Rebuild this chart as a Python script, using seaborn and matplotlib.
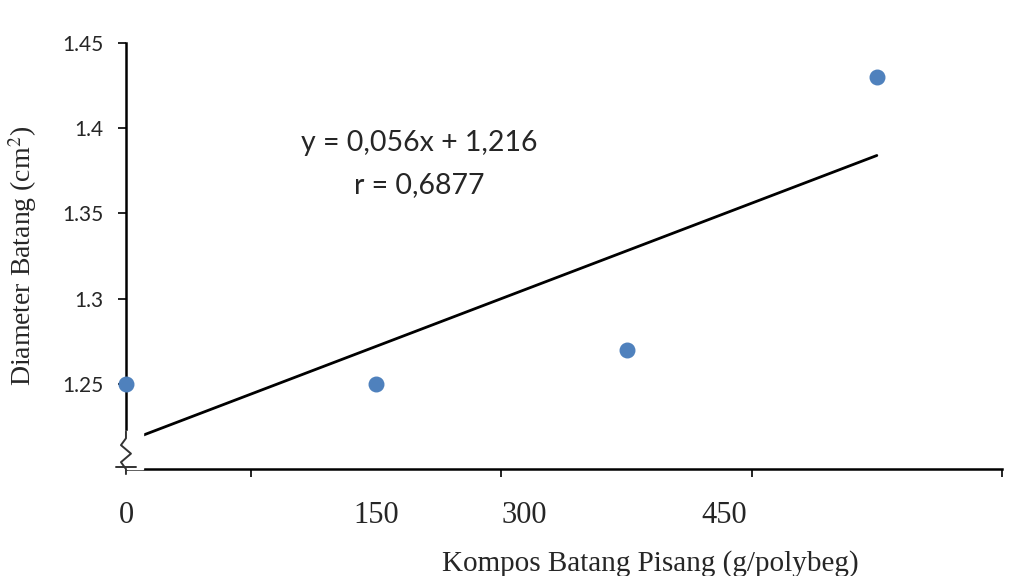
import numpy as np
import pandas as pd
import seaborn as sns
import matplotlib.pyplot as plt

# data (x as treatment index)
dose_idx = [0, 1, 2, 3]
diameter = [1.25, 1.25, 1.27, 1.43]
x_labels = ["0", "150", "300", "450"]
x_label_pos = [0, 1, 1.59, 2.39]
y_ticks = [1.25, 1.3, 1.35, 1.4, 1.45]

df = pd.DataFrame({"dosis": dose_idx, "diameter": diameter})

sns.set_style("white")
fig = plt.figure(figsize=(10.35, 5.76), dpi=100)
ax = fig.add_axes([0.1217, 0.1858, 0.8464, 0.7395])

sns.regplot(data=df, x="dosis", y="diameter", ax=ax, ci=None,
            scatter_kws={"color": "#4F81BD", "s": 110, "alpha": 1, "zorder": 4, "clip_on": False},
            line_kws={"color": "black", "lw": 2})

ax.set_xlim(0, 3.5)
ax.set_ylim(1.2, 1.45)
ax.set_xlabel("")
ax.set_ylabel("")

for s in ["top", "right"]:
    ax.spines[s].set_visible(False)
for s in ["left", "bottom"]:
    ax.spines[s].set_color("black")
    ax.spines[s].set_linewidth(1.8)

ax.set_xticks([0.5, 1.5, 2.5, 3.5])
ax.set_xticklabels([])
ax.set_yticks(y_ticks)
ax.set_yticklabels([f"{v:g}" for v in y_ticks], fontfamily="Lato", fontsize=15)
ax.tick_params(axis="both", direction="out", length=6, width=1.2, color="black",
               left=True, bottom=True)
ax.tick_params(axis="y", pad=10)

# manually placed x labels (as in original)
for p, lab in zip(x_label_pos, x_labels):
    ax.text(p, -0.075, lab, transform=ax.get_xaxis_transform(), ha="center", va="top",
            fontfamily="Liberation Serif", fontsize=22)

# axis break symbol
ax.add_patch(plt.Rectangle((-0.07, 1.2), 0.14, 0.022, color="white", zorder=3, clip_on=False))
zx = [0.0, 0.0, -0.02, 0.02, -0.02, 0.0, 0.0]
zy = [1.222, 1.218, 1.214, 1.209, 1.204, 1.2, 1.197]
ax.plot(zx, zy, color="#333333", lw=1.4, zorder=4, clip_on=False)
ax.plot([-0.04, 0.04], [1.201, 1.201], color="#333333", lw=1.4, zorder=4, clip_on=False)

ax.text(1.17, 1.3914, "y = 0,056x + 1,216", ha="center", va="center",
        fontfamily="Lato", fontsize=20.5)
ax.text(1.17, 1.3667, "r = 0,6877", ha="center", va="center",
        fontfamily="Lato", fontsize=20.5)

fig.text(0.628, 0.022, "Kompos Batang Pisang (g/polybeg)", ha="center", va="center",
         fontfamily="Liberation Serif", fontsize=21)
fig.text(0.022, 0.555, "Diameter Batang (cm$^2$)", ha="center", va="center", rotation=90,
         fontfamily="Liberation Serif", fontsize=20, math_fontfamily="stix")

fig.savefig("out.png", dpi=100)
